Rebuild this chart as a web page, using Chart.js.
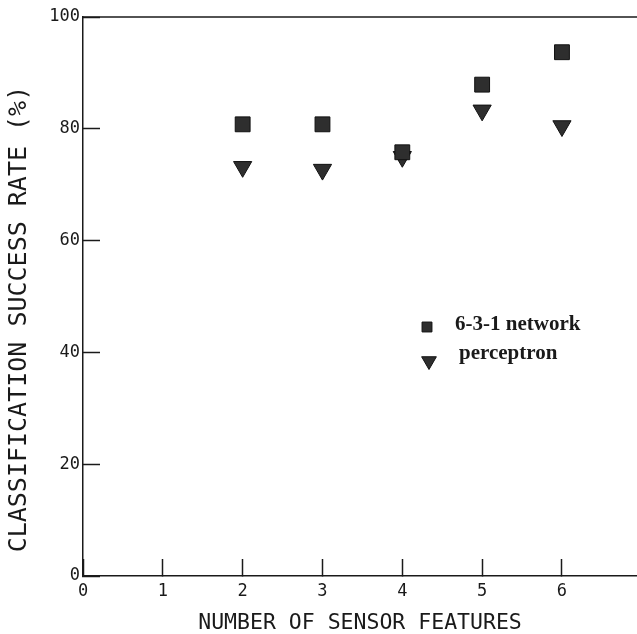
<!DOCTYPE html>
<html>
<head>
<meta charset="utf-8">
<script src="https://cdn.jsdelivr.net/npm/chart.js@4/dist/chart.umd.min.js"></script>
<style>
  html, body { margin: 0; padding: 0; background: #fff; }
  #wrap { width: 637px; height: 634px; }
</style>
</head>
<body>
<div id="wrap"><canvas id="c" width="637" height="634"></canvas></div>
<script>
// ---- data ----
const sensorFeatures = [2, 3, 4, 5, 6];
const networkRate    = [80.8, 80.8, 75.8, 87.9, 93.7];   // 6-3-1 network (squares)
const perceptronRate = [73.2, 72.7, 75.0, 83.3, 80.5];   // perceptron (triangles)
const seriesLabels   = ['6-3-1 network', 'perceptron'];
const xTicks = [0, 1, 2, 3, 4, 5, 6];
const yTicks = [0, 20, 40, 60, 80, 100];
const xTitle = 'NUMBER OF SENSOR FEATURES';
const yTitle = 'CLASSIFICATION SUCCESS RATE (%)';

const INK = '#1a1a1a';
const MARK = '#2e2e2e';
const monoFont = '"DejaVu Sans Mono", "Liberation Mono", monospace';

const toPoints = (xs, ys) => xs.map((x, i) => ({ x: x, y: ys[i] }));

// top frame line + in-plot legend
const framePlugin = {
  id: 'frame',
  afterDraw(chart) {
    const ctx = chart.ctx;
    const a = chart.chartArea;
    ctx.save();
    ctx.strokeStyle = INK;
    ctx.lineWidth = 1.5;
    ctx.beginPath();
    ctx.moveTo(a.left - 0.75, a.top);
    ctx.lineTo(a.right, a.top);
    ctx.stroke();

    // legend
    const rows = [
      { ds: 0, mx: 427, my: 327, r: 7,  tx: 455, ty: 330 },
      { ds: 1, mx: 429, my: 361, r: 8.5, tx: 459, ty: 359 }
    ];
    ctx.font = 'bold 21px "Liberation Serif", "Times New Roman", serif';
    ctx.textBaseline = 'alphabetic';
    ctx.textAlign = 'left';
    rows.forEach(row => {
      const ds = chart.data.datasets[row.ds];
      ctx.fillStyle = ds.backgroundColor;
      ctx.strokeStyle = ds.borderColor;
      ctx.lineWidth = 1;
      Chart.helpers.drawPoint(ctx, {
        pointStyle: ds.pointStyle,
        rotation: ds.pointRotation || 0,
        radius: row.r,
        borderWidth: 1
      }, row.mx, row.my);
      ctx.fillStyle = INK;
      ctx.fillText(ds.label, row.tx, row.ty);
    });
    ctx.restore();
  }
};

function zeroPad(scale) {
  scale.paddingLeft = 0;
  scale.paddingRight = 0;
  scale.paddingTop = 0;
  scale.paddingBottom = 0;
}

new Chart(document.getElementById('c'), {
  type: 'scatter',
  data: {
    datasets: [
      {
        label: seriesLabels[0],
        data: toPoints(sensorFeatures, networkRate),
        pointStyle: 'rect',
        pointRadius: 10.5,
        pointHoverRadius: 10.5,
        backgroundColor: MARK,
        borderColor: '#111',
        borderWidth: 1
      },
      {
        label: seriesLabels[1],
        data: toPoints(sensorFeatures, perceptronRate),
        pointStyle: 'triangle',
        pointRotation: 180,
        rotation: 180,
        pointRadius: 10.5,
        pointHoverRadius: 10.5,
        backgroundColor: MARK,
        borderColor: '#111',
        borderWidth: 1
      }
    ]
  },
  options: {
    responsive: false,
    animation: false,
    devicePixelRatio: 1,
    layout: { autoPadding: false, padding: { left: 0, right: 0, top: 17, bottom: 0 } },
    plugins: {
      legend: { display: false },
      tooltip: { enabled: false },
      title: { display: false }
    },
    scales: {
      x: {
        type: 'linear',
        position: 'bottom',
        min: 0,
        max: 6.94,
        afterBuildTicks(scale) { scale.ticks = xTicks.map(v => ({ value: v })); },
        afterFit(scale) { scale.height = 58; zeroPad(scale); },
        border: { display: true, color: INK, width: 1.5 },
        grid: {
          display: true,
          drawOnChartArea: false,
          drawTicks: true,
          tickLength: -17,
          tickWidth: 1.5,
          tickColor: INK
        },
        ticks: {
          color: INK,
          padding: 22,
          maxRotation: 0,
          autoSkip: false,
          font: { family: monoFont, size: 17 },
          callback: (v) => String(v)
        },
        title: {
          display: true,
          text: xTitle,
          color: INK,
          font: { family: monoFont, size: 21.5, lineHeight: 1 },
          padding: { top: 0, bottom: 0 }
        }
      },
      y: {
        type: 'linear',
        position: 'left',
        min: 0,
        max: 100,
        afterBuildTicks(scale) { scale.ticks = yTicks.map(v => ({ value: v })); },
        afterFit(scale) { scale.width = 83; zeroPad(scale); },
        border: { display: true, color: INK, width: 1.5 },
        grid: {
          display: true,
          drawOnChartArea: false,
          drawTicks: true,
          tickLength: -17,
          tickWidth: 1.5,
          tickColor: INK
        },
        ticks: {
          color: INK,
          padding: 20,
          autoSkip: false,
          font: { family: monoFont, size: 17 },
          callback: (v) => String(v)
        },
        title: {
          display: true,
          text: yTitle + '   ',
          color: INK,
          font: { family: monoFont, size: 25, lineHeight: 1 },
          padding: { top: 7, bottom: 0 }
        }
      }
    }
  },
  plugins: [framePlugin]
});
</script>
</body>
</html>
